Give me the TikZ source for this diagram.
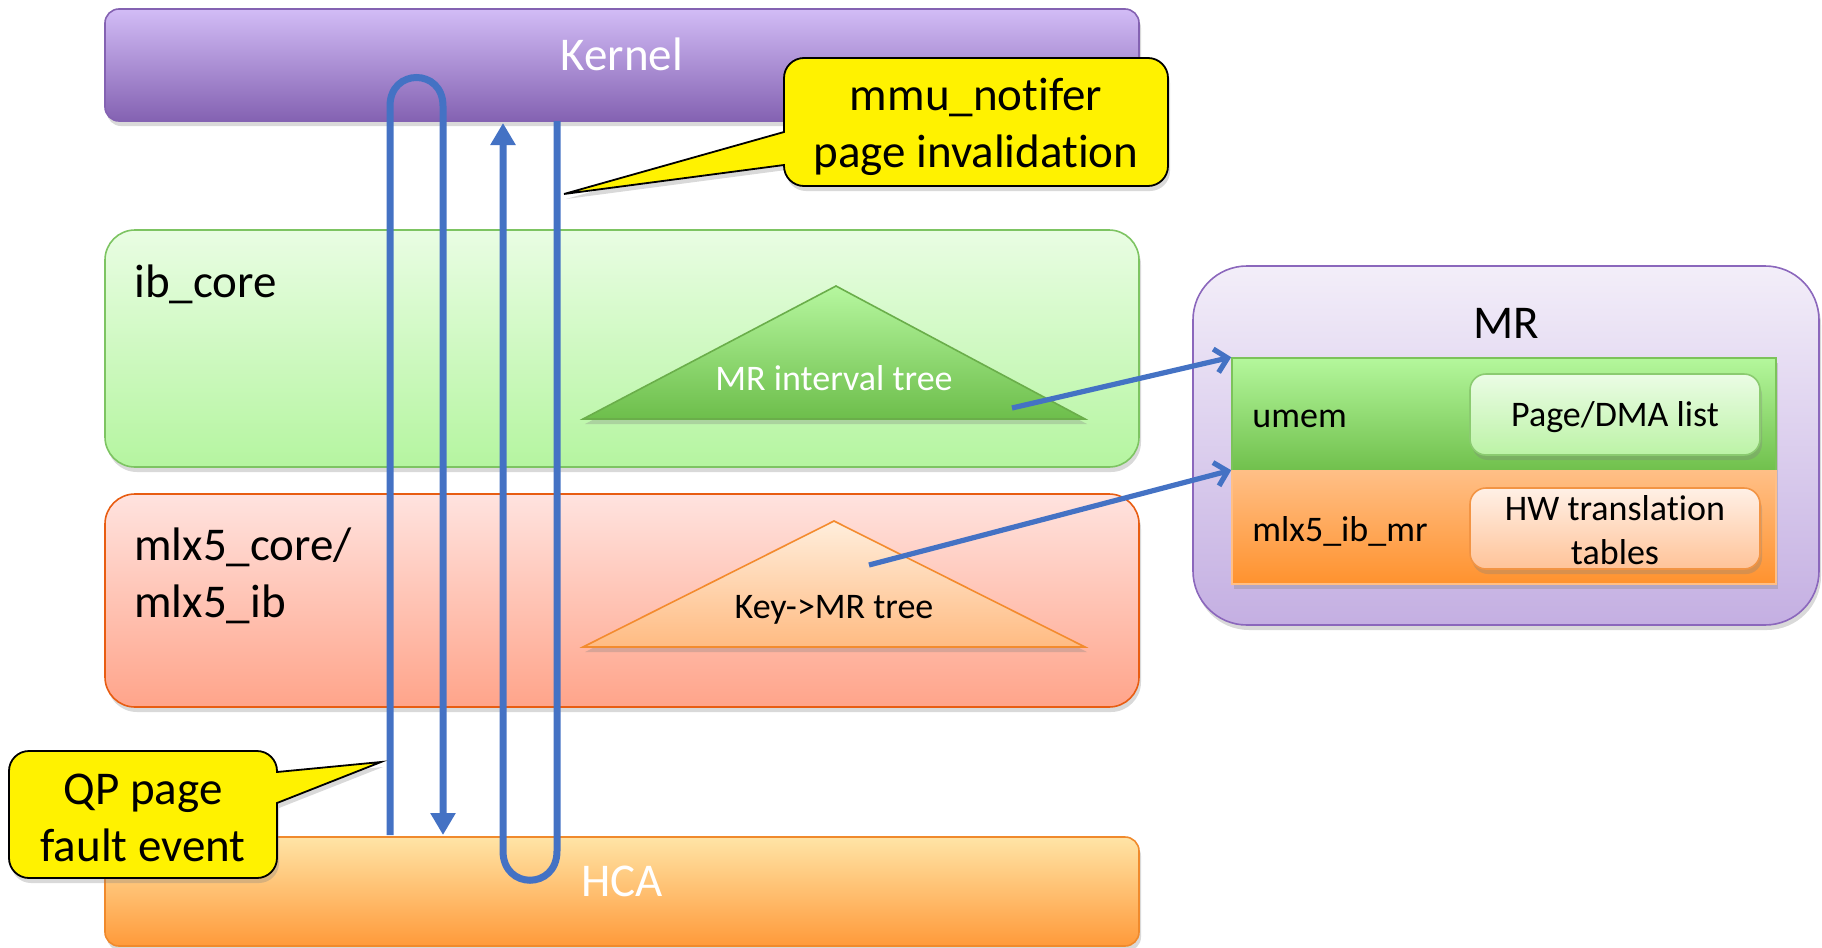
\documentclass[tikz,border=0pt]{standalone}
\usepackage{fontspec}
\setmainfont[Ligatures=NoCommon]{Carlito}
\usetikzlibrary{arrows.meta,shadows}
\definecolor{kerneltop}{HTML}{D2BCF6}
\definecolor{kernelbot}{HTML}{8462B2}
\definecolor{ibtop}{HTML}{E9FDE3}
\definecolor{ibbot}{HTML}{B5F5A0}
\definecolor{ibedge}{HTML}{7DC462}
\definecolor{mlxtop}{HTML}{FFE3DF}
\definecolor{mlxbot}{HTML}{FFA48A}
\definecolor{mlxedge}{HTML}{E85D12}
\definecolor{hcatop}{HTML}{FFE4A6}
\definecolor{hcamid}{HTML}{FFBF78}
\definecolor{hcabot}{HTML}{FF9A3A}
\definecolor{hcaedge}{HTML}{F08A2C}
\definecolor{mrtop}{HTML}{F3EEF9}
\definecolor{mrbot}{HTML}{C4AFE2}
\definecolor{mredge}{HTML}{8B67BC}
\definecolor{umemtop}{HTML}{B4F79C}
\definecolor{umembot}{HTML}{70C04C}
\definecolor{umemedge}{HTML}{7CC35A}
\definecolor{mlmrtop}{HTML}{FFBF86}
\definecolor{mlmrbot}{HTML}{FF922E}
\definecolor{pltop}{HTML}{EBFCE5}
\definecolor{plbot}{HTML}{BCF3A6}
\definecolor{pledge}{HTML}{8BCB70}
\definecolor{hwtop}{HTML}{FFF0E6}
\definecolor{hwbot}{HTML}{FFC398}
\definecolor{hwedge}{HTML}{F29444}
\definecolor{gtritop}{HTML}{B6F79F}
\definecolor{gtribot}{HTML}{6DBE4B}
\definecolor{gtriedge}{HTML}{6AAE4A}
\definecolor{ptritop}{HTML}{FFEEDC}
\definecolor{ptribot}{HTML}{FFBB82}
\definecolor{ptriedge}{HTML}{F38B2E}
\definecolor{flowblue}{HTML}{4472C4}
\begin{document}
\begin{tikzpicture}[x=0.5pt,y=-0.5pt,
  big/.style={font=\fontsize{23.5}{28.5}\selectfont, inner sep=0pt},
  small/.style={font=\fontsize{18}{22}\selectfont, inner sep=0pt},
  box/.style={draw, inner sep=0pt, line width=0.8pt},
  shad/.style={drop shadow={opacity=0.3,shadow xshift=1pt,shadow yshift=-2.5pt}},
  flow/.style={draw=flowblue, line width=3.5pt},
  ptr/.style={draw=flowblue, line width=2.6pt, -{Straight Barb[length=6pt,width=12pt]}},
  callout/.style={fill=yellow, draw=black, line width=0.9pt, shad},
]
\useasboundingbox (0,0) rectangle (1822,948);

% layers
\node[box, shad, rounded corners=7pt, draw=kernelbot, top color=kerneltop, bottom color=kernelbot,
  minimum width=517pt, minimum height=56pt] (kernel) at (622,65) {};
\node[big, text=white] (kernellbl) at (622,54) {Kernel};

\node[box, shad, rounded corners=15pt, draw=ibedge, top color=ibtop, bottom color=ibbot,
  minimum width=517pt, minimum height=118.5pt] (ibcore) at (622,348.5) {};
\node[big, anchor=west] (ibcorelbl) at (134,284) {ib\_core};

\node[box, shad, rounded corners=15pt, draw=mlxedge, top color=mlxtop, bottom color=mlxbot,
  minimum width=517pt, minimum height=106.5pt] (mlx) at (622,600.5) {};
\node[big, anchor=west, align=left] (mlxlbl) at (134,576) {mlx5\_core/\\mlx5\_ib};

\node[box, shad, rounded corners=7pt, draw=hcaedge, top color=hcatop, middle color=hcamid, bottom color=hcabot,
  minimum width=517pt, minimum height=54.5pt] (hca) at (622,891.5) {};
\node[big, text=white] (hcalbl) at (622,881) {HCA};

% MR
\node[box, shad, rounded corners=27pt, draw=mredge, top color=mrtop, bottom color=mrbot,
  minimum width=313pt, minimum height=179.5pt] (mr) at (1506,445.5) {};
\node[big] (mrlbl) at (1506,323) {MR};
\node[box, shad, draw=umemedge, top color=umemtop, bottom color=umembot,
  minimum width=272pt, minimum height=56.5pt] (umem) at (1504,414.5) {};
\node[box, shad, draw=mlmrtop, top color=mlmrtop, bottom color=mlmrbot,
  minimum width=272pt, minimum height=56.5pt] (mlxmr) at (1504,527.5) {};
\node[small, anchor=west] (umemlbl) at (1252,419) {umem};
\node[small, anchor=west] (mlxmrlbl) at (1252,531) {mlx5\_ib\_mr};
\node[box, shad, small, rounded corners=8pt, draw=pledge, top color=pltop, bottom color=plbot,
  minimum width=145pt, minimum height=40.5pt] (pagelist) at (1615,414.5) {};
\node[small] (pagelistlbl) at (1615,417) {Page/DMA list};
\node[box, shad, small, rounded corners=8pt, draw=hwedge, top color=hwtop, bottom color=hwbot,
  minimum width=145pt, minimum height=40.5pt] (hwtab) at (1615,528.5) {};
\node[small, align=center] (hwtablbl) at (1615,530) {HW translation\\tables};

% trees
\draw[draw=gtriedge, line width=0.8pt, top color=gtritop, bottom color=gtribot, shad]
  (836,286) -- (1085,419) -- (583,419) -- cycle;
\node[small, text=white] (tree1) at (834,378) {MR interval tree};
\draw[draw=ptriedge, line width=0.8pt, top color=ptritop, bottom color=ptribot, shad]
  (834,521) -- (1085,647) -- (583,647) -- cycle;
\node[small] (tree2) at (834,610) {Key->MR tree};
\coordinate (t1src) at (1012,408);
\coordinate (t2src) at (869,565);
\draw[ptr] (t1src) -- (umem.north west);
\draw[ptr] (t2src) -- (mlxmr.north west);

% flows
\draw[flow, -{Triangle[length=11pt,width=12pt]}]
  (390,835) -- (390,106) .. controls (390,68) and (443,68) .. (443,106) -- (443,835);
\draw[flow, -{Triangle[length=11pt,width=12pt]}]
  (557,121) -- (557,851) .. controls (557,890) and (503,890) .. (503,851) -- (503,123);

% callouts
\draw[callout] (784,132) [rounded corners=10pt] -- (784,58) -- (1168,58) -- (1168,186) -- (784,186)
  [sharp corners] -- (784,165) -- (564,194) -- cycle;
\node[big, align=center] (mmu) at (976,127) {mmu\_notifer\\page invalidation};
\draw[callout] (277,803) [rounded corners=10pt] -- (277,878) -- (9,878) -- (9,751) -- (277,751)
  [sharp corners] -- (277,772) -- (381,762) -- cycle;
\node[big, align=center] (qp) at (143,818) {QP page\\fault event};
\end{tikzpicture}
\end{document}
